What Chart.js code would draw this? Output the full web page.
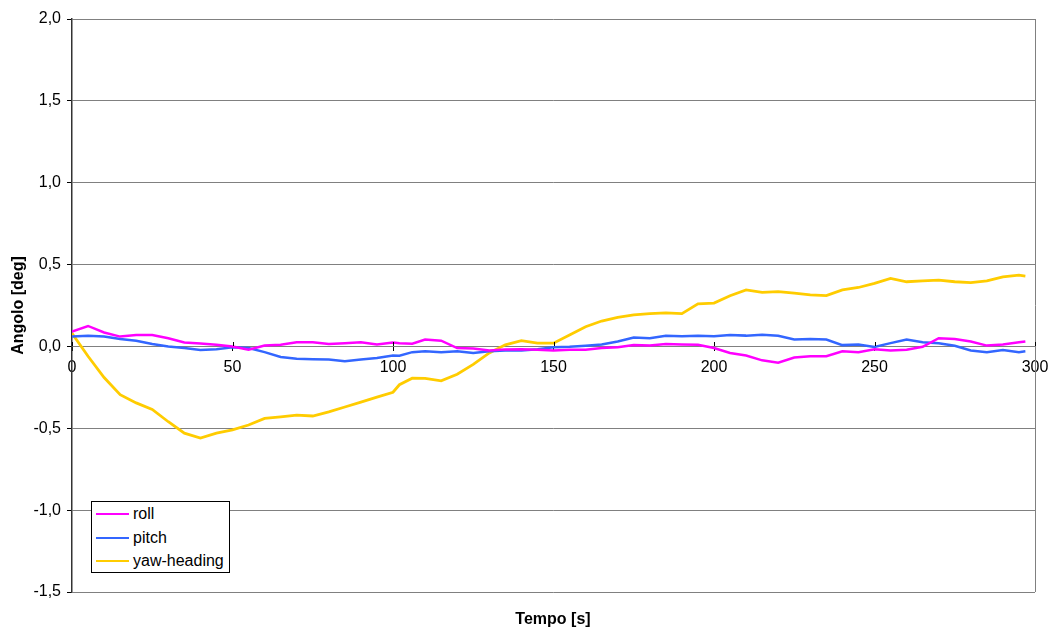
<!DOCTYPE html>
<html>
<head>
<meta charset="utf-8">
<script src="https://cdn.jsdelivr.net/npm/chart.js@4/dist/chart.umd.min.js"></script>
<style>
  body { margin: 0; background: #fff; }
  #wrap { position: relative; width: 1050px; height: 630px; font-family: "Liberation Sans", Arial, sans-serif; }
  #legenda {
    position: absolute; left: 91px; top: 501px; width: 137px; height: 70px;
    border: 1px solid #000; background: #fff; font-size: 16px; color: #000;
  }
  .voce { position: absolute; left: 4px; height: 18px; line-height: 18px; }
  .voce span.linea { position: absolute; left: 0; top: 8px; width: 33px; height: 2px; }
  .voce span.testo { position: absolute; left: 37px; top: 0; white-space: nowrap; }
  #titoloX { position: absolute; left: 453px; width: 200px; top: 610px; text-align: center; font-weight: bold; font-size: 16px; }
</style>
</head>
<body>
<div id="wrap">
  <canvas id="grafico" width="1050" height="630"></canvas>
  <div id="legenda">
    <div class="voce" style="top:3px"><span class="linea" style="background:#ff00ff"></span><span class="testo">roll</span></div>
    <div class="voce" style="top:27px"><span class="linea" style="background:#3366ff"></span><span class="testo">pitch</span></div>
    <div class="voce" style="top:50px"><span class="linea" style="background:#ffcc00"></span><span class="testo">yaw-heading</span></div>
  </div>
  <div id="titoloX">Tempo [s]</div>
</div>
<script>
// Tempi [s] (campioni)
const tempi = [0, 5, 10, 15, 20, 25, 30, 35, 40, 45, 50, 55, 60, 65, 70, 75, 80, 85, 90, 95,
  100, 102, 106, 110, 115, 120, 125, 130, 135, 140, 145, 150, 155, 160, 165, 170, 175, 180, 185, 190, 195,
  200, 205, 210, 215, 220, 225, 230, 235, 240, 245, 250, 255, 260, 265, 270, 275, 280, 285, 290, 295, 297];

// Angoli [deg]
const roll = [0.09, 0.125, 0.085, 0.06, 0.07, 0.07, 0.05, 0.024, 0.018, 0.01, 0.0, -0.02, 0.005, 0.01, 0.025, 0.025, 0.015, 0.02, 0.025, 0.012,
  0.024, 0.02, 0.016, 0.042, 0.035, -0.01, -0.012, -0.025, -0.018, -0.017, -0.02, -0.025, -0.02, -0.02, -0.01, -0.005, 0.008, 0.005, 0.015, 0.012, 0.01,
  -0.01, -0.04, -0.055, -0.085, -0.1, -0.068, -0.06, -0.06, -0.03, -0.035, -0.018, -0.025, -0.02, -0.002, 0.05, 0.045, 0.03, 0.005, 0.012, 0.025, 0.03];

const pitch = [0.06, 0.065, 0.06, 0.045, 0.035, 0.015, 0.0, -0.01, -0.022, -0.017, -0.005, -0.01, -0.035, -0.065, -0.075, -0.078, -0.08, -0.09, -0.08, -0.07,
  -0.055, -0.057, -0.035, -0.03, -0.035, -0.03, -0.04, -0.03, -0.025, -0.025, -0.017, -0.005, -0.002, 0.004, 0.012, 0.03, 0.055, 0.05, 0.065, 0.062, 0.065,
  0.062, 0.07, 0.066, 0.072, 0.065, 0.042, 0.045, 0.042, 0.008, 0.012, -0.004, 0.02, 0.042, 0.025, 0.02, 0.004, -0.025, -0.035, -0.022, -0.035, -0.03];

const yaw = [0.08, -0.06, -0.19, -0.295, -0.345, -0.385, -0.46, -0.53, -0.56, -0.53, -0.51, -0.48, -0.44, -0.43, -0.42, -0.425, -0.40, -0.37, -0.34, -0.31,
  -0.28, -0.234, -0.194, -0.195, -0.21, -0.17, -0.11, -0.04, 0.01, 0.035, 0.02, 0.02, 0.07, 0.12, 0.155, 0.178, 0.193, 0.20, 0.205, 0.20, 0.26,
  0.265, 0.31, 0.345, 0.33, 0.335, 0.325, 0.315, 0.31, 0.345, 0.36, 0.385, 0.415, 0.395, 0.40, 0.405, 0.395, 0.39, 0.40, 0.425, 0.435, 0.43];

// Tacche degli assi
const tickX = [0, 50, 100, 150, 200, 250, 300];
const tickY = [-1.5, -1.0, -0.5, 0.0, 0.5, 1.0, 1.5, 2.0];

const punti = serie => tempi.map((t, i) => ({ x: t, y: serie[i] }));

// Bordo destro e tacche incrociate sull'asse X
const rifiniture = {
  id: "rifiniture",
  afterDraw(chart) {
    const { ctx, chartArea, scales } = chart;
    const y0 = Math.round(scales.y.getPixelForValue(0));
    ctx.save();
    ctx.strokeStyle = "#808080";
    ctx.lineWidth = 1;
    ctx.beginPath();
    ctx.moveTo(chartArea.right + 0.5, chartArea.top);
    ctx.lineTo(chartArea.right + 0.5, chartArea.bottom);
    ctx.stroke();
    ctx.strokeStyle = "#000";
    ctx.beginPath();
    tickX.forEach(v => {
      const x = Math.round(scales.x.getPixelForValue(v)) + 0.5;
      ctx.moveTo(x, y0 - 4);
      ctx.lineTo(x, y0);
    });
    ctx.stroke();
    ctx.restore();
  }
};

new Chart(document.getElementById("grafico").getContext("2d"), {
  type: "line",
  data: {
    datasets: [
      { label: "roll", data: punti(roll), borderColor: "#ff00ff", borderWidth: 2.5 },
      { label: "pitch", data: punti(pitch), borderColor: "#3366ff", borderWidth: 2.5 },
      { label: "yaw-heading", data: punti(yaw), borderColor: "#ffcc00", borderWidth: 2.8 }
    ]
  },
  options: {
    responsive: false,
    animation: false,
    events: [],
    layout: { padding: { left: 0, right: 15, top: 19, bottom: 38 } },
    elements: { point: { radius: 0 }, line: { tension: 0 } },
    plugins: { legend: { display: false }, tooltip: { enabled: false } },
    scales: {
      x: {
        type: "linear",
        position: { y: 0 },
        min: 0, max: 300,
        afterBuildTicks: s => { s.ticks = tickX.map(v => ({ value: v })); },
        afterFit: s => { s.paddingLeft = 0; s.paddingRight = 0; },
        ticks: { color: "#000", font: { family: "Liberation Sans", size: 16 }, padding: 8, maxRotation: 0 },
        grid: { drawOnChartArea: false, drawTicks: true, tickLength: 4, color: "#000" },
        border: { color: "#808080", width: 1 }
      },
      y: {
        min: -1.5, max: 2.0,
        afterBuildTicks: s => { s.ticks = tickY.map(v => ({ value: v })); },
        afterFit: s => { s.width = 72; s.paddingTop = 0; s.paddingBottom = 0; },
        ticks: {
          color: "#000", font: { family: "Liberation Sans", size: 16 }, padding: 6,
          callback: v => v.toFixed(1).replace(".", ",")
        },
        grid: { color: "#808080", tickLength: 5, tickColor: "#000" },
        border: { color: "#333", width: 1.5 },
        title: {
          display: true, text: "Angolo [deg]", color: "#000",
          font: { family: "Liberation Sans", size: 16, weight: "bold" }, padding: { top: 9, bottom: 4 }
        }
      }
    }
  },
  plugins: [rifiniture]
});
</script>
</body>
</html>
